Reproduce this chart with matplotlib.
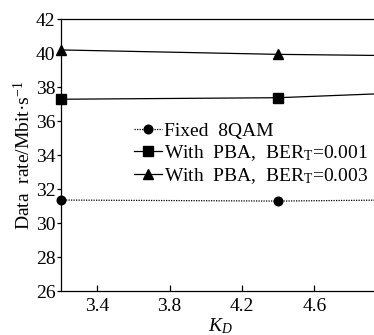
import matplotlib
matplotlib.use("Agg")
import matplotlib.pyplot as plt

plt.rcParams['font.family'] = ['Liberation Serif', 'DejaVu Serif']
plt.rcParams['mathtext.fontset'] = 'custom'
plt.rcParams['mathtext.rm'] = 'Liberation Serif'
plt.rcParams['mathtext.it'] = 'Liberation Serif:italic'

kd = [3.2, 4.4, 5.0]
fixed_8qam = [31.35, 31.29, 31.35]
pba_001 = [37.28, 37.37, 37.62]
pba_003 = [40.18, 39.92, 39.85]

labels = ["Fixed  8QAM",
          "With  PBA,  BER$_\\mathrm{T}$=0.001",
          "With  PBA,  BER$_\\mathrm{T}$=0.003"]
xticks = [3.4, 3.8, 4.2, 4.6]
yticks = [26, 28, 30, 32, 34, 36, 38, 40, 42]

W, H = 374, 335
fig = plt.figure(figsize=(W / 100, H / 100), dpi=100)
ax = fig.add_axes([61 / W, 1 - 291 / H, 1 - 61 / W + 0.01, (291 - 19) / H])

fs = 14
ax.plot(kd, fixed_8qam, linestyle=(0, (1, 1)), color='black', lw=0.9,
        marker='o', ms=6.2, label=labels[0], clip_on=False)
ax.plot(kd, pba_001, linestyle='-', color='black', lw=0.9,
        marker='s', ms=6.8, label=labels[1], clip_on=False)
ax.plot(kd, pba_003, linestyle='-', color='black', lw=0.9,
        marker='^', ms=7.5, label=labels[2], clip_on=False)

ax.set_xlim(3.2, 4.95)
ax.set_ylim(26, 42)
ax.set_xticks(xticks)
ax.set_xticklabels([f"{v:.1f}" for v in xticks])
ax.set_yticks(yticks)
ax.tick_params(axis='x', direction='in', length=4, width=0.9, labelsize=fs, pad=5)
ax.tick_params(axis='y', direction='out', length=3, width=0.9, labelsize=fs, pad=1)
ax.spines['right'].set_visible(False)
for s in ['left', 'bottom', 'top']:
    ax.spines[s].set_linewidth(0.9)

ax.set_ylabel("Data  rate/Mbit·s$^{-1}$", fontsize=fs, labelpad=1)
fig.text(220 / W, 1 - 326 / H, "$K_{D}$", fontsize=fs, ha='center', va='center')

leg = ax.legend(loc='upper left', bbox_to_anchor=(134 / W, 1 - 122 / H),
                bbox_transform=fig.transFigure, frameon=False, fontsize=fs,
                handlelength=1.45, handletextpad=0.1, labelspacing=0.17,
                borderpad=0, borderaxespad=0)

fig.savefig("out.png", dpi=100)
